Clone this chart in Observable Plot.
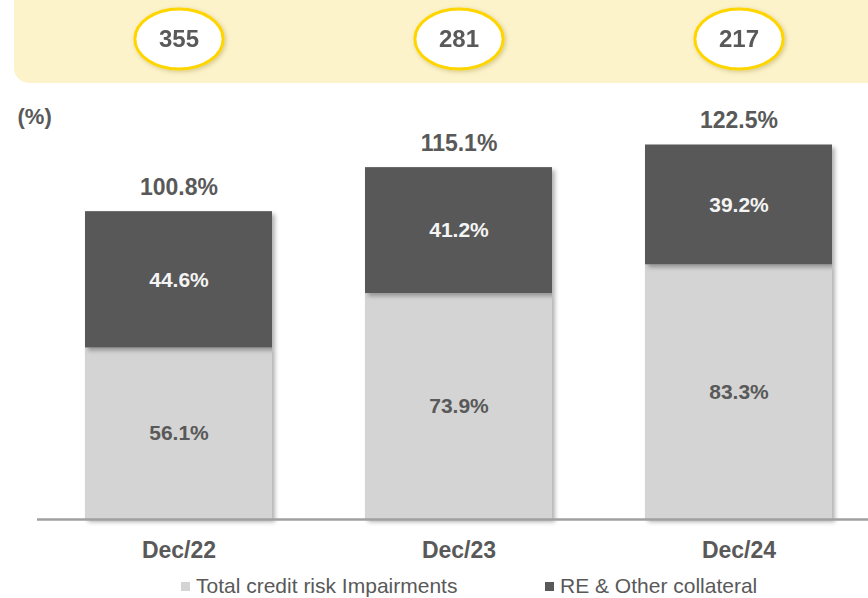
<!DOCTYPE html>
<html>
<head>
<meta charset="utf-8">
<script src="https://cdn.jsdelivr.net/npm/d3@7"></script>
<script src="https://cdn.jsdelivr.net/npm/@observablehq/plot@0.6"></script>
<style>
  html, body { margin: 0; padding: 0; background: #ffffff; }
  body { width: 868px; height: 598px; overflow: hidden; font-family: "Liberation Sans", Arial, sans-serif; }
  #legend { height: 28px; position: relative; font-size: 21px; color: #595959; }
  .item { position: absolute; top: 4px; display: flex; align-items: center; white-space: nowrap; }
  .sw { width: 9px; height: 9px; margin-right: 6px; }
</style>
</head>
<body>
<div id="chart"></div>
<div id="legend"></div>
<script>
const categories = ["Dec/22", "Dec/23", "Dec/24"];
const seriesNames = ["Total credit risk Impairments", "RE & Other collateral"];
const impairments = [56.1, 73.9, 83.3];
const collateral = [44.6, 41.2, 39.2];
const totals = [100.8, 115.1, 122.5];
const topCounts = [355, 281, 217];
const seriesColors = ["#D4D4D4", "#595959"];

const rows = [];
categories.forEach((c, i) => {
  rows.push({cat: c, series: seriesNames[0], value: impairments[i]});
  rows.push({cat: c, series: seriesNames[1], value: collateral[i]});
});
const lightLabels = categories.map((c, i) => ({cat: c, mid: impairments[i] / 2, text: impairments[i].toFixed(1) + "%"}));
const darkLabels = categories.map((c, i) => ({cat: c, mid: impairments[i] + collateral[i] / 2, text: collateral[i].toFixed(1) + "%"}));
const totalRows = categories.map((c, i) => ({cat: c, top: impairments[i] + collateral[i], text: totals[i].toFixed(1) + "%"}));
const countRows = categories.map((c, i) => ({cat: c, n: topCounts[i]}));

const ellipse = {
  draw(context, size) {
    const r = Math.sqrt(size / Math.PI);
    const rx = r * 1.47, ry = r, k = 0.5523;
    context.moveTo(rx, 0);
    context.bezierCurveTo(rx, ry * k, rx * k, ry, 0, ry);
    context.bezierCurveTo(-rx * k, ry, -rx, ry * k, -rx, 0);
    context.bezierCurveTo(-rx, -ry * k, -rx * k, -ry, 0, -ry);
    context.bezierCurveTo(rx * k, -ry, rx, -ry * k, rx, 0);
    context.closePath();
  }
};

const textGray = "#595959";
const topDy = 38.5 - 91;

const plot = Plot.plot({
  width: 868,
  height: 570,
  marginTop: 91,
  marginBottom: 51,
  marginLeft: 37,
  marginRight: 0,
  style: {fontFamily: "'Liberation Sans', Arial, sans-serif", background: "transparent", overflow: "visible"},
  x: {domain: categories, paddingInner: 0.333, paddingOuter: 0.1456, align: 0.574, label: null},
  y: {domain: [0, 140], axis: null},
  color: {domain: seriesNames, range: seriesColors},
  marks: [
    Plot.barY(rows, {x: "cat", y: "value", fill: "series"}),
    Plot.ruleY([0], {stroke: "#A0A0A0", strokeWidth: 2.5}),
    Plot.axisX({tickSize: 0, tickPadding: 22, fontSize: 23, fontWeight: "bold", color: textGray, label: null}),
    Plot.text(lightLabels, {x: "cat", y: "mid", text: "text", fill: textGray, fontSize: 21, fontWeight: "bold"}),
    Plot.text(darkLabels, {x: "cat", y: "mid", text: "text", fill: "#F4F4F4", fontSize: 21, fontWeight: "bold"}),
    Plot.text(totalRows, {x: "cat", y: "top", text: "text", dy: -24, fill: textGray, fontSize: 23, fontWeight: "bold"}),
    Plot.text(["(%)"], {frameAnchor: "top-left", lineAnchor: "middle", textAnchor: "start", dx: -20, dy: 25, fill: textGray, fontSize: 22, fontWeight: "bold"}),
    Plot.dot(countRows, {x: "cat", frameAnchor: "top", dy: topDy, r: 30, symbol: ellipse, fill: "white", stroke: "#FFD500", strokeWidth: 3}),
    Plot.text(countRows, {x: "cat", frameAnchor: "top", lineAnchor: "middle", dy: topDy, text: "n", fill: textGray, fontSize: 24, fontWeight: "bold"})
  ]
});

// decorations: drop shadows and the yellow header band
const svg = d3.select(plot);
const defs = svg.insert("defs", ":first-child");
const f1 = defs.append("filter").attr("id", "barShadow").attr("x", "-10%").attr("y", "-10%").attr("width", "130%").attr("height", "130%");
f1.append("feDropShadow").attr("dx", 3).attr("dy", 3).attr("stdDeviation", 2.2).attr("flood-color", "#000").attr("flood-opacity", 0.3);
const f2 = defs.append("filter").attr("id", "dotShadow").attr("x", "-20%").attr("y", "-20%").attr("width", "140%").attr("height", "140%");
f2.append("feDropShadow").attr("dx", 1.5).attr("dy", 1.5).attr("stdDeviation", 2).attr("flood-color", "#7a6a00").attr("flood-opacity", 0.3);
svg.insert("path", "defs + *")
  .attr("d", "M14,0 V68 A15,15 0 0 0 29,83 H868 V0 Z")
  .attr("fill", "#FDF3CB");
svg.selectAll('g[aria-label="bar"] rect').attr("filter", "url(#barShadow)");
svg.select('g[aria-label="dot"]').attr("filter", "url(#dotShadow)");

document.getElementById("chart").appendChild(plot);

// legend
const legend = d3.select("#legend");
const lx = [181, 545];
seriesNames.forEach((s, i) => {
  const it = legend.append("div").attr("class", "item").style("left", lx[i] + "px");
  it.append("div").attr("class", "sw").style("background", seriesColors[i]);
  it.append("span").text(s);
});
</script>
</body>
</html>
